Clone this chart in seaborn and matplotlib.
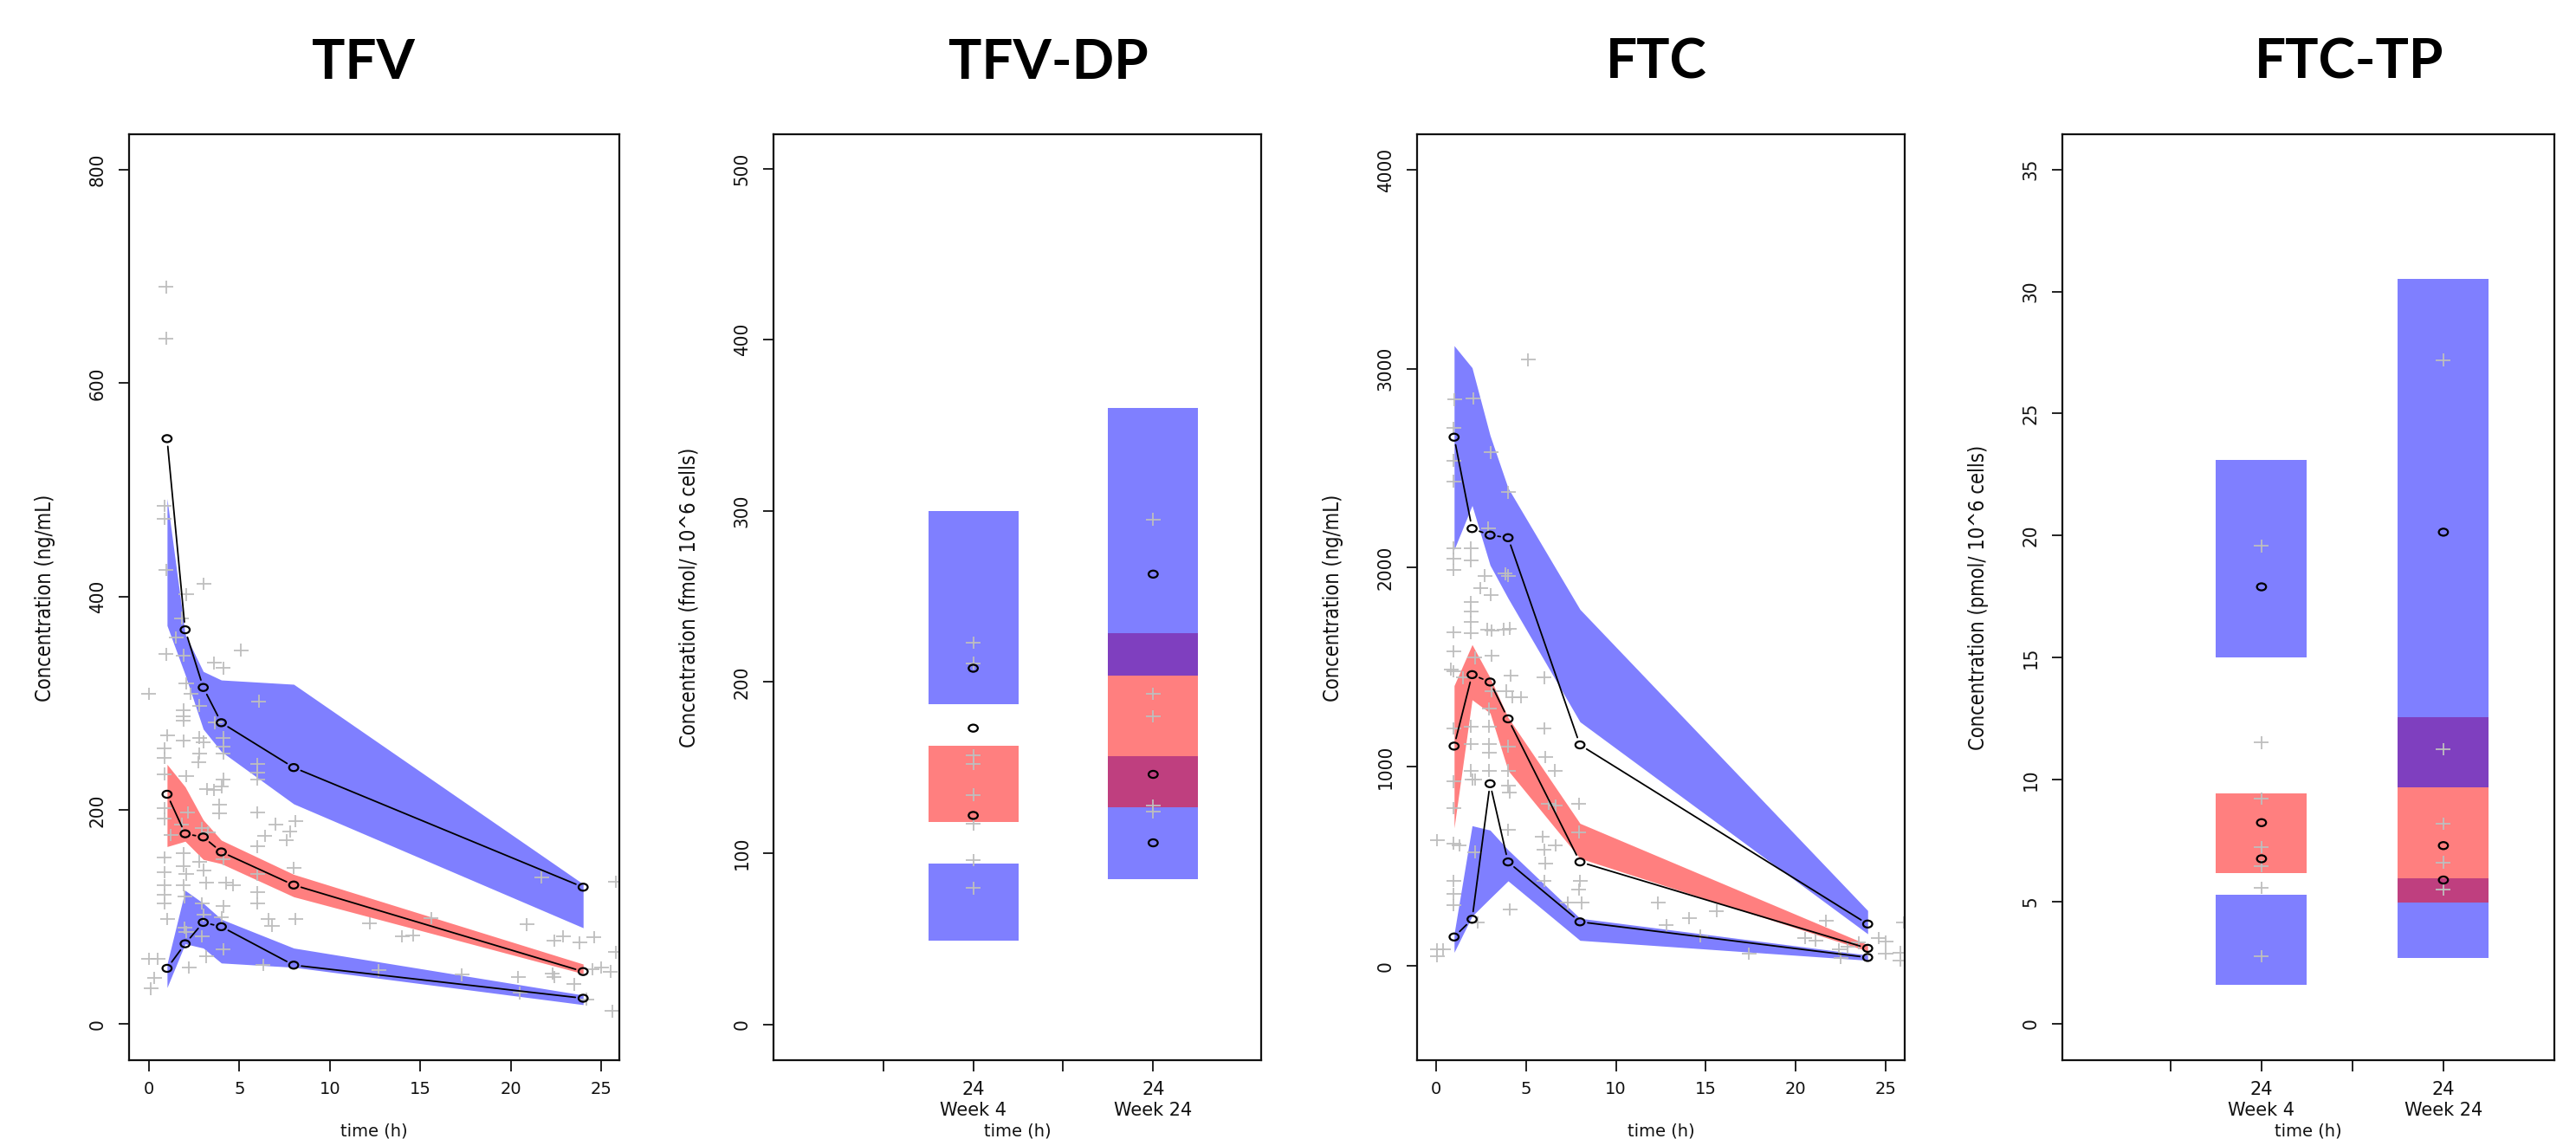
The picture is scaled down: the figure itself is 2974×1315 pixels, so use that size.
import numpy as np
import pandas as pd
import matplotlib
matplotlib.use("Agg")
import matplotlib.pyplot as plt
import seaborn as sns
from matplotlib.path import Path
from matplotlib.transforms import Affine2D
from matplotlib import font_manager as fm

# ---------------- data ----------------
titles = ["TFV", "TFV-DP", "FTC", "FTC-TP"]
ylabels = ["Concentration (ng/mL)", "Concentration (fmol/ 10^6 cells)",
           "Concentration (ng/mL)", "Concentration (pmol/ 10^6 cells)"]

times = [1, 2, 3, 4, 8, 24]

# TFV plasma
tfv_obs_p95 = [548, 369, 315, 282, 240, 128]
tfv_obs_p50 = [215, 178, 175, 161, 130, 49]
tfv_obs_p05 = [52, 75, 95, 91, 55, 24]
tfv_hi_lo = [373, 327, 276, 255, 206, 90]
tfv_hi_hi = [492, 365, 330, 322, 318, 131]
tfv_md_lo = [166, 171, 154, 150, 119, 47]
tfv_md_hi = [243, 222, 191, 172, 140, 56]
tfv_lo_lo = [34, 75, 71, 57, 53, 18]
tfv_lo_hi = [56, 125, 113, 98, 71, 27]
tfv_pts_t = [0.86, 0.86, 0.94, 3.02, 2.06, 1.82, 1.5, 5.09, 0.94, 1.9, 3.6, 4.1, 0.0, 2.06, 2.3,
             2.78, 6.06, 1.9, 1.9, 1.9, 3.65, 1.02, 1.9, 2.8, 3.0, 4.1, 4.1, 0.86, 2.8, 2.75,
             4.1, 6.0, 6.0, 6.0, 0.86, 0.86, 2.06, 3.2, 3.6, 4.0, 4.1, 3.9, 3.9, 6.0, 7.0,
             8.1, 7.8, 6.4, 7.6, 6.0, 0.86, 0.86, 1.2, 1.82, 2.14, 2.94, 3.26, 0.86, 0.86, 0.86,
             1.9, 1.9, 2.06, 1.9, 2.78, 3.02, 3.18, 4.1, 4.26, 4.66, 6.0, 6.0, 6.0, 8.0, 6.6,
             6.8, 8.1, 0.86, 0.86, 1.02, 1.98, 1.98, 2.06, 2.94, 3.02, 2.94, 4.1, 4.02, 4.1, 0.0,
             0.5, 2.22, 3.18, 6.3, 0.1, 0.3, 12.2, 12.7, 14.0, 14.6, 15.6, 17.3, 20.4, 20.9, 21.7,
             22.4, 22.9, 23.8, 24.6, 20.5, 22.4, 22.3, 23.5, 24.2, 24.5, 25.0, 25.5, 25.8, 25.8, 25.6,
             0.95, 0.95]
tfv_pts_c = [485, 473, 425, 412, 402, 380, 362, 350, 346, 345, 338, 333, 309, 319, 309,
             298, 302, 294, 288, 284, 282, 270, 265, 268, 264, 268, 260, 258, 253, 245,
             253, 243, 235, 229, 249, 234, 232, 220, 219, 222, 229, 205, 197, 198, 187,
             190, 180, 176, 172, 166, 202, 192, 177, 187, 198, 183, 179, 156, 142, 130,
             160, 148, 140, 130, 152, 144, 132, 154, 132, 130, 140, 123, 113, 146, 98,
             92, 98, 121, 113, 98, 119, 90, 86, 113, 102, 82, 110, 100, 70, 61,
             61, 53, 63, 55, 33, 43, 94, 50, 82, 83, 99, 46, 44, 93, 137,
             78, 82, 76, 81, 29, 44, 47, 37, 23, 51, 53, 49, 133, 67, 12,
             690, 642]

# FTC plasma
ftc_obs_p95 = [2656, 2197, 2164, 2151, 1110, 210]
ftc_obs_p50 = [1104, 1463, 1426, 1241, 522, 88]
ftc_obs_p05 = [145, 234, 915, 522, 221, 42]
ftc_hi_lo = [2091, 2313, 2013, 1847, 1226, 161]
ftc_hi_hi = [3116, 3005, 2665, 2401, 1791, 278]
ftc_md_lo = [693, 1337, 1270, 982, 540, 74]
ftc_md_hi = [1408, 1614, 1448, 1248, 716, 106]
ftc_lo_lo = [68, 250, 339, 427, 128, 28]
ftc_lo_hi = [160, 704, 682, 583, 239, 54]
ftc_pts_t = [5.12, 1.03, 2.07, 0.98, 3.04, 0.98, 0.98, 4.0, 2.9, 0.98, 0.98, 0.98, 1.94, 1.94, 3.84,
             4.0, 2.7, 2.46, 3.04, 1.94, 1.94, 1.94, 1.94, 0.98, 2.86, 3.1, 3.76, 4.08, 0.98, 0.98,
             0.82, 2.15, 3.1, 1.5, 6.0, 4.15, 3.92, 4.24, 4.72, 3.1, 2.94, 2.94, 2.94, 2.94, 2.94,
             1.94, 1.94, 2.15, 0.98, 6.0, 6.08, 4.0, 4.0, 4.0, 4.08, 1.94, 2.02, 6.6, 0.98, 0.98,
             7.94, 6.24, 6.64, 0.06, 0.98, 1.3, 2.15, 4.0, 5.92, 6.0, 6.08, 6.64, 7.94, 8.0, 8.1,
             7.94, 0.98, 0.98, 0.98, 7.3, 6.0, 4.1, 2.3, 0.06, 0.4, 0.06, 12.35, 12.8, 14.07, 15.6,
             14.7, 17.4, 21.7, 20.5, 21.1, 22.4, 22.9, 23.5, 22.5, 24.6, 25.0, 25.0, 25.8, 25.8, 26.0]
ftc_pts_c = [3045, 2845, 2850, 2701, 2579, 2539, 2435, 2379, 2200, 2100, 2046, 1990, 2100, 2035, 1970,
             1960, 1960, 1898, 1865, 1826, 1782, 1727, 1672, 1675, 1690, 1685, 1690, 1695, 1580, 1480,
             1490, 1548, 1558, 1448, 1448, 1459, 1382, 1349, 1349, 1382, 1291, 1203, 1114, 1070, 981,
             1203, 1114, 937, 1192, 1192, 1048, 1103, 981, 904, 870, 981, 937, 981, 926, 793,
             815, 815, 804, 631, 616, 605, 572, 683, 649, 583, 516, 605, 672, 427, 316,
             383, 427, 361, 305, 316, 427, 283, 217, 83, 83, 50, 316, 205, 239, 276,
             150, 61, 227, 139, 128, 83, 94, 116, 39, 139, 122, 61, 67, 28, 218]

# intracellular (two visits)
visit_labels = ["24\nWeek 4", "24\nWeek 24"]
visit_pos = [2, 4]

dp_hi_lo = [187, 203.5]
dp_hi_hi = [300, 360]
dp_md_lo = [118, 126.6]
dp_md_hi = [162.5, 228.6]
dp_lo_lo = [48.6, 85]
dp_lo_hi = [94, 156.4]
dp_obs_p95 = [208, 263]
dp_obs_p50 = [173, 146]
dp_obs_p05 = [122, 106]
dp_pts_v = [0, 0, 0, 0, 0, 0, 0, 0, 1, 1, 1, 1, 1]
dp_pts_c = [223, 211, 157, 152, 134, 117, 96, 79.5, 295, 193, 180, 127.6, 124]

tp_hi_lo = [15.0, 9.67]
tp_hi_hi = [23.1, 30.5]
tp_md_lo = [6.17, 4.97]
tp_md_hi = [9.43, 12.55]
tp_lo_lo = [1.58, 2.69]
tp_lo_hi = [5.27, 5.95]
tp_obs_p95 = [17.9, 20.14]
tp_obs_p50 = [8.24, 7.30]
tp_obs_p05 = [6.76, 5.89]
tp_pts_v = [0, 0, 0, 0, 0, 0, 0, 1, 1, 1, 1, 1]
tp_pts_c = [19.57, 11.52, 9.22, 7.23, 6.45, 5.57, 2.77, 27.19, 11.24, 8.19, 6.61, 5.5]

# ---------------- style ----------------
sns.set_theme(style="ticks")
plt.rcParams["font.family"] = ["DejaVu Sans"]


def has_font(name):
    try:
        fm.findfont(fm.FontProperties(family=name), fallback_to_default=False)
        return True
    except Exception:
        return False


if has_font("Liberation Sans Narrow"):
    NARROW_FP = dict(family=["Liberation Sans Narrow", "DejaVu Sans"])
else:
    NARROW_FP = dict(family=["DejaVu Sans"], stretch="condensed")
TITLEF = ["Lato", "DejaVu Sans"]

W, H = 2974, 1315
fig = plt.figure(figsize=(W / 100, H / 100), dpi=100)
fig.patch.set_facecolor("white")

panels_px = [(149, 715), (893, 1456), (1636, 2199), (2381, 2949)]
title_x_px = [419, 1210, 1912, 2712]
TOP, BOT = 155, 1224

cross = Path([(-1.0, 0.0), (1.0, 0.0), (0.0, -0.85), (0.0, 0.85)],
             [Path.MOVETO, Path.LINETO, Path.MOVETO, Path.LINETO])
ellipse = Path.unit_circle().transformed(Affine2D().scale(1.3, 1.0))

BLUE = (0, 0, 1)
RED = (1, 0, 0)
GREY = "#BEBEBE"

limits = [((-1.1, 26.0), (-34, 833)),
          ((-0.22, 5.2), (-21, 520)),
          ((-1.06, 26.06), (-474, 4178)),
          ((-0.19, 5.22), (-1.49, 36.44))]
yticks = [np.arange(0, 801, 200), np.arange(0, 501, 100),
          np.arange(0, 4001, 1000), np.arange(0, 36, 5)]

axes = []
for i, (l, r) in enumerate(panels_px):
    ax = fig.add_axes([l / W, 1 - BOT / H, (r - l) / W, (BOT - TOP) / H])
    ax.set_xlim(*limits[i][0])
    ax.set_ylim(*limits[i][1])
    axes.append(ax)

CIRC_S = 58
CROSS_S = 150
GAP_PX = 9.0


def gapped_segments(ax, xs, ys):
    """R type='b' style: segments between points, shortened near each point."""
    pts = ax.transData.transform(np.column_stack([xs, ys]))
    inv = ax.transData.inverted()
    rows = []
    for k in range(len(pts) - 1):
        p0, p1 = pts[k], pts[k + 1]
        d = p1 - p0
        L = np.hypot(d[0], d[1])
        if L <= 2 * GAP_PX:
            continue
        u = d / L
        a, b = inv.transform(np.array([p0 + u * GAP_PX, p1 - u * GAP_PX]))
        rows.append((k, a[0], a[1]))
        rows.append((k, b[0], b[1]))
    return pd.DataFrame(rows, columns=["seg", "t", "c"])


def draw_time_panel(ax, lo_lo, lo_hi, md_lo, md_hi, hi_lo, hi_hi, p05, p50, p95, pt_t, pt_c):
    ax.fill_between(times, lo_lo, lo_hi, color=BLUE, alpha=0.5, lw=0, zorder=1)
    ax.fill_between(times, md_lo, md_hi, color=RED, alpha=0.5, lw=0, zorder=1)
    ax.fill_between(times, hi_lo, hi_hi, color=BLUE, alpha=0.5, lw=0, zorder=1)
    pts = pd.DataFrame({"t": pt_t, "c": pt_c})
    sns.scatterplot(data=pts, x="t", y="c", ax=ax, marker=cross, s=CROSS_S,
                    facecolor="none", edgecolor=GREY, linewidth=1.3, zorder=2, legend=False)
    for q in (p05, p50, p95):
        d = pd.DataFrame({"t": times, "c": q})
        segs = gapped_segments(ax, times, q)
        sns.lineplot(data=segs, x="t", y="c", units="seg", ax=ax, color="black", lw=1.3,
                     estimator=None, sort=False, zorder=3, legend=False)
        sns.scatterplot(data=d, x="t", y="c", ax=ax, marker=ellipse, s=CIRC_S,
                        facecolor="none", edgecolor="black", linewidth=1.6, zorder=4,
                        legend=False)
    ax.set_xticks([0, 5, 10, 15, 20, 25])


def draw_visit_panel(ax, lo_lo, lo_hi, md_lo, md_hi, hi_lo, hi_hi, p05, p50, p95, pt_v, pt_c):
    for lo, hi, col in ((lo_lo, lo_hi, BLUE), (md_lo, md_hi, RED), (hi_lo, hi_hi, BLUE)):
        ax.bar(visit_pos, np.array(hi) - np.array(lo), bottom=lo, width=1.0,
               color=col, alpha=0.5, linewidth=0, zorder=1)
    pts = pd.DataFrame({"x": [visit_pos[v] for v in pt_v], "c": pt_c})
    sns.scatterplot(data=pts, x="x", y="c", ax=ax, marker=cross, s=CROSS_S,
                    facecolor="none", edgecolor=GREY, linewidth=1.3, zorder=2, legend=False)
    obs = pd.DataFrame({"x": visit_pos * 3, "c": list(p05) + list(p50) + list(p95)})
    sns.scatterplot(data=obs, x="x", y="c", ax=ax, marker=ellipse, s=CIRC_S,
                    facecolor="none", edgecolor="black", linewidth=1.6, zorder=4, legend=False)
    ax.set_xticks([1, 2, 3, 4])
    ax.set_xticklabels(["", visit_labels[0], "", visit_labels[1]], linespacing=1.25,
                       fontsize=15)


draw_time_panel(axes[0], tfv_lo_lo, tfv_lo_hi, tfv_md_lo, tfv_md_hi, tfv_hi_lo, tfv_hi_hi,
                tfv_obs_p05, tfv_obs_p50, tfv_obs_p95, tfv_pts_t, tfv_pts_c)
draw_visit_panel(axes[1], dp_lo_lo, dp_lo_hi, dp_md_lo, dp_md_hi, dp_hi_lo, dp_hi_hi,
                 dp_obs_p05, dp_obs_p50, dp_obs_p95, dp_pts_v, dp_pts_c)
draw_time_panel(axes[2], ftc_lo_lo, ftc_lo_hi, ftc_md_lo, ftc_md_hi, ftc_hi_lo, ftc_hi_hi,
                ftc_obs_p05, ftc_obs_p50, ftc_obs_p95, ftc_pts_t, ftc_pts_c)
draw_visit_panel(axes[3], tp_lo_lo, tp_lo_hi, tp_md_lo, tp_md_hi, tp_hi_lo, tp_hi_hi,
                 tp_obs_p05, tp_obs_p50, tp_obs_p95, tp_pts_v, tp_pts_c)

for i, ax in enumerate(axes):
    (xl, yl) = limits[i]
    ax.set_xlim(*xl)
    ax.set_ylim(*yl)
    ax.set_yticks(yticks[i])
    ax.set_yticklabels([str(v) for v in yticks[i]])
    ax.set_xlabel("")
    ax.set_ylabel("")
    for sp in ax.spines.values():
        sp.set_visible(True)
        sp.set_color("#111111")
        sp.set_linewidth(1.6)
    ax.tick_params(axis="both", direction="out", length=9, width=1.3, color="#111111",
                   top=False, right=False)
    ax.tick_params(axis="x", pad=8)
    if i in (0, 2):
        ax.tick_params(axis="x", labelsize=14)
    ax.tick_params(axis="y", labelsize=16, pad=10)
    for lab in ax.get_yticklabels():
        lab.set_rotation(90)
        lab.set_va("center")
        lab.set_fontproperties(fm.FontProperties(size=16, **NARROW_FP))
        lab.set_color("#111111")
    for lab in ax.get_xticklabels():
        lab.set_color("#111111")
    ax.set_facecolor("white")
    ax.grid(False)

    l, r = panels_px[i]
    # y label
    fig.text((l - 97) / W, 1 - 690 / H, ylabels[i], rotation=90, ha="center", va="center",
             fontproperties=fm.FontProperties(size=17, **NARROW_FP), color="#111111")
    # x label
    fig.text(((l + r) / 2) / W, 1 - 1306 / H, "time (h)", ha="center", va="center",
             fontsize=14, color="#111111")
    # panel title
    fig.text(title_x_px[i] / W, 1 - 90.6 / H, titles[i], ha="center", va="baseline",
             fontsize=46, fontweight="bold", family=TITLEF, color="black")

fig.savefig("out.png", dpi=100, facecolor="white")
